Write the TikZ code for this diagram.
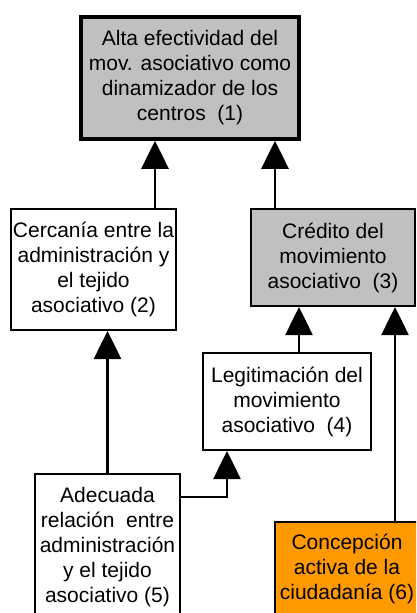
\documentclass[tikz,border=0pt]{standalone}
\usepackage{fontspec}
\setmainfont{Liberation Sans}
\usetikzlibrary{arrows.meta}

\definecolor{grisCaja}{HTML}{C0C0C0}
\definecolor{naranjaCaja}{HTML}{FF9900}

\tikzset{
  caja/.style={draw, line width=2pt, align=center, inner sep=0pt,
    font=\fontsize{21}{25}\selectfont},
  flecha/.style={line width=2.6pt, -{Triangle[width=27pt,length=28pt]}}
}

\begin{document}
\begin{tikzpicture}[x=1pt,y=-1pt]
        % Paso 1: Fija el marco del dibujo
        \clip (0,0) rectangle (416,613);
        \fill[white] (0,0) rectangle (416,613);

        % Paso 2: Dibuja las cajas
        \node[caja, fill=grisCaja, line width=3.5pt, minimum width=218pt, minimum height=122pt]
          (efectividad) at (190,78) {Alta efectividad del\\mov. asociativo como\\dinamizador de los\\centros\ \ (1)};
        \node[caja, minimum width=165pt, minimum height=121pt]
          (cercania) at (93.5,269.5) {Cercanía entre la\\administración y\\el tejido\\asociativo (2)};
        \node[caja, fill=grisCaja, minimum width=164pt, minimum height=97pt]
          (credito) at (333,257.5) {Crédito del\\movimiento\\asociativo\ \ (3)};
        \node[caja, minimum width=168pt, minimum height=97pt]
          (legitimacion) at (287,401.5) {Legitimación del\\movimiento\\asociativo\ \ (4)};
        \node[caja, minimum width=145pt, minimum height=146pt]
          (relacion) at (107.5,547) {Adecuada\\relación\ \ entre\\administración\\y el tejido\\asociativo (5)};
        \node[caja, fill=naranjaCaja, minimum width=144pt, minimum height=94pt]
          (concepcion) at (347,569) {Concepción\\activa de la\\ciudadanía (6)};

        % Paso 3: Dibuja las flechas
        \draw[flecha] ([xshift=61.5pt]cercania.north) -- ([xshift=-35pt]efectividad.south);
        \draw[flecha] ([xshift=-58pt]credito.north) -- ([xshift=85pt]efectividad.south);
        \draw[flecha] ([xshift=12pt]legitimacion.north) -- ([xshift=-34pt]credito.south);
        \draw[flecha] ([xshift=48pt]concepcion.north) -- ([xshift=62pt]credito.south);
        \draw[flecha] (relacion.north) -- (relacion.north |- cercania.south);
        \draw[flecha] ([yshift=50pt]relacion.east) -| ([xshift=-60pt]legitimacion.south);
\end{tikzpicture}
\end{document}
